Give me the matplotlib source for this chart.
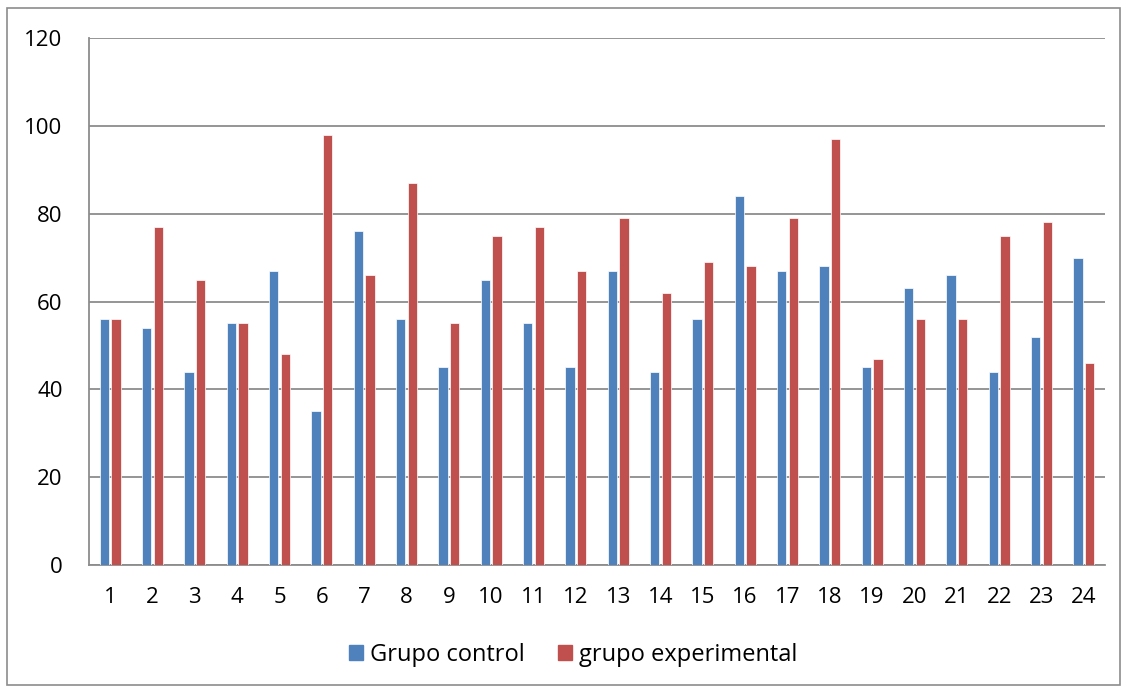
import numpy as np
import matplotlib
matplotlib.use('Agg')
import matplotlib.pyplot as plt
from matplotlib.patches import Rectangle, Patch

categories = [str(i) for i in range(1, 25)]
control = [56, 54, 44, 55, 67, 35, 76, 56, 45, 65, 55, 45,
           67, 44, 56, 84, 67, 68, 45, 63, 66, 44, 52, 70]
experimental = [56, 77, 65, 55, 48, 98, 66, 87, 55, 75, 77, 67,
                79, 62, 69, 68, 79, 97, 47, 56, 56, 75, 78, 46]

plt.rcParams['font.family'] = ['Open Sans', 'DejaVu Sans']

fig = plt.figure(figsize=(11.27, 6.9), dpi=100)
ax = fig.add_axes([89/1127, 1-565/690, (1105-89)/1127, (565-38)/690])

x = np.arange(len(categories))
w = 0.22
ax.bar(x - 0.135, control, w, color='#4F81BD', edgecolor='white', linewidth=0.5,
       label='Grupo control', zorder=3)
ax.bar(x + 0.135, experimental, w, color='#C0504D', edgecolor='white', linewidth=0.5,
       label='grupo experimental', zorder=3)

ax.set_xlim(-0.5, len(categories) - 0.5)
ax.set_ylim(0, 120)
ax.set_yticks(range(0, 121, 20))
ax.set_xticks(x)
ax.set_xticklabels(categories)
ax.yaxis.grid(True, color='#8c8c8c', linewidth=1.3, zorder=0)
for s in ['top', 'right']:
    ax.spines[s].set_visible(False)
for s in ['left', 'bottom']:
    ax.spines[s].set_color('#8c8c8c')
    ax.spines[s].set_linewidth(1.3)
ax.tick_params(axis='both', length=0, labelsize=16, colors='black')
ax.tick_params(axis='y', pad=19)
ax.tick_params(axis='x', pad=16)

handles = [Patch(color='#4F81BD', label='Grupo control'),
           Patch(color='#C0504D', label='grupo experimental')]
fig.legend(handles=handles, loc='center', bbox_to_anchor=(0.5 + 10/1127, 1-655/690), ncol=2,
           frameon=False, fontsize=17, handlelength=0.6, handleheight=0.6,
           handletextpad=0.3, columnspacing=1.4)

fig.patches.append(Rectangle((7/1127, 1-685/690), (1120-7)/1127, (685-8)/690,
                             transform=fig.transFigure, fill=False,
                             edgecolor='#8c8c8c', linewidth=1.2))

fig.savefig('out.png', dpi=100)
